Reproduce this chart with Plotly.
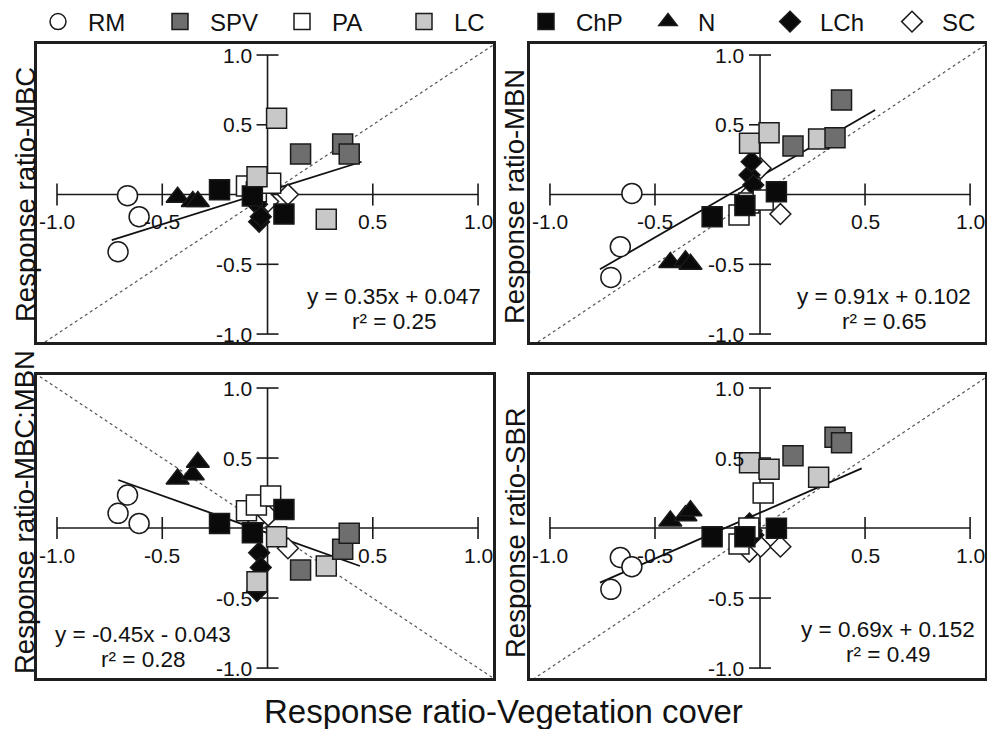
import plotly.graph_objects as go

# ---------------- data ----------------
groups = ["RM", "SPV", "PA", "LC", "ChP", "N", "LCh", "SC"]
n_per_group = 3

# Response ratio - vegetation cover (x of every point), grouped 3 per group in `groups` order
veg_cover = [
    -0.71, -0.665, -0.61,     # RM
    0.157, 0.357, 0.388,      # SPV
    -0.10, -0.053, 0.015,     # PA
    -0.05, 0.043, 0.279,      # LC
    -0.228, -0.072, 0.078,    # ChP
    -0.427, -0.355, -0.331,   # N
    -0.05, -0.04, -0.032,     # LCh
    -0.051, 0.003, 0.097,     # SC
]
rr_mbc = [
    -0.41, -0.008, -0.159,
    0.29, 0.362, 0.29,
    0.061, 0.02, 0.08,
    0.128, 0.546, -0.178,
    0.035, -0.01, -0.14,
    -0.02, -0.05, -0.05,
    -0.07, -0.195, -0.159,
    -0.04, -0.05, 0.0,
]
rr_mbn = [
    -0.594, -0.374, 0.008,
    0.348, 0.407, 0.677,
    -0.147, -0.06, -0.04,
    0.367, 0.443, 0.398,
    -0.159, -0.078, 0.02,
    -0.487, -0.475, -0.50,
    0.14, 0.235, 0.068,
    0.0, 0.188, -0.14,
]
rr_mbc_mbn = [
    0.105, 0.236, 0.033,
    -0.30, -0.152, -0.038,
    0.124, 0.164, 0.229,
    -0.383, -0.062, -0.271,
    0.033, -0.033, 0.133,
    0.35, 0.38, 0.47,
    -0.45, -0.176, -0.281,
    0.06, 0.09, -0.145,
]
rr_sbr = [
    -0.438, -0.21, -0.276,
    0.517, 0.648, 0.61,
    -0.114, 0.0, 0.25,
    0.467, 0.419, 0.362,
    -0.062, -0.062, -0.002,
    0.05, 0.088, 0.123,
    0.033, -0.02, -0.05,
    -0.169, -0.133, -0.133,
]

# fitted regression lines (end points as drawn)
fit_x_mbc = [-0.74, 0.447]
fit_y_mbc = [-0.326, 0.235]
fit_x_mbn = [-0.762, 0.548]
fit_y_mbn = [-0.536, 0.606]
fit_x_ratio = [-0.709, 0.439]
fit_y_ratio = [0.343, -0.271]
fit_x_sbr = [-0.762, 0.484]
fit_y_sbr = [-0.39, 0.426]

# 1:1 reference lines
ref_x = [-1.2, 1.2]
ref_y_pos = [-1.2, 1.2]
ref_y_neg = [1.2, -1.2]

equations = ["y = 0.35x + 0.047", "y = 0.91x + 0.102", "y = -0.45x - 0.043", "y = 0.69x + 0.152"]
r_squared = ["r² = 0.25", "r² = 0.65", "r² = 0.28", "r² = 0.49"]
y_titles = ["Response ratio-MBC", "Response ratio-MBN", "Response ratio-MBC:MBN", "Response ratio-SBR"]
x_title = "Response ratio-Vegetation cover"

tick_vals = [-1.0, -0.5, 0.5, 1.0]
tick_text = ["-1.0", "-0.5", "0.5", "1.0"]

# ---------------- styling ----------------
FONT = "Liberation Sans, Arial, sans-serif"
style = {
    "RM": dict(symbol="circle", color="white", size=20),
    "SPV": dict(symbol="square", color="#6e6e6e", size=20),
    "PA": dict(symbol="square", color="white", size=20),
    "LC": dict(symbol="square", color="#c8c8c8", size=20),
    "ChP": dict(symbol="square", color="#0a0a0a", size=20),
    "N": dict(symbol="triangle-up", color="#0a0a0a", size=20),
    "LCh": dict(symbol="diamond", color="#0a0a0a", size=16),
    "SC": dict(symbol="diamond", color="white", size=16),
}
draw_order = ["RM", "N", "SC", "LCh", "PA", "ChP", "LC", "SPV"]

W, H = 987, 729
panels = [
    dict(y=rr_mbc, fx=fit_x_mbc, fy=fit_y_mbc, ref=ref_y_pos, px=(37, 493), py=(44, 342),
         yr=(-1.057, 1.079), eq_xy=(394, 296), title_xy=(25, 195)),
    dict(y=rr_mbn, fx=fit_x_mbn, fy=fit_y_mbn, ref=ref_y_pos, px=(530, 985), py=(44, 342),
         yr=(-1.057, 1.079), eq_xy=(884, 296), title_xy=(515, 197)),
    dict(y=rr_mbc_mbn, fx=fit_x_ratio, fy=fit_y_ratio, ref=ref_y_neg, px=(37, 493), py=(375, 678),
         yr=(-1.071, 1.093), eq_xy=(143, 634), title_xy=(25, 512)),
    dict(y=rr_sbr, fx=fit_x_sbr, fy=fit_y_sbr, ref=ref_y_pos, px=(530, 985), py=(375, 678),
         yr=(-1.071, 1.093), eq_xy=(888, 629), title_xy=(515, 533)),
]
xr = (-1.095, 1.071)

fig = go.Figure()
shapes = []
annotations = []
layout_axes = {}

for k, p in enumerate(panels):
    i = k + 1
    xa = "x" if i == 1 else f"x{i}"
    ya = "y" if i == 1 else f"y{i}"
    xkey = "xaxis" if i == 1 else f"xaxis{i}"
    ykey = "yaxis" if i == 1 else f"yaxis{i}"
    layout_axes[xkey] = dict(
        domain=[p["px"][0] / W, p["px"][1] / W], range=list(xr), anchor=ya,
        showline=True, mirror=True, linewidth=3, linecolor="#1e1e1e",
        showgrid=False, zeroline=False, showticklabels=False, ticks="", fixedrange=True)
    layout_axes[ykey] = dict(
        domain=[1 - p["py"][1] / H, 1 - p["py"][0] / H], range=list(p["yr"]), anchor=xa,
        showline=True, mirror=True, linewidth=3, linecolor="#1e1e1e",
        showgrid=False, zeroline=False, showticklabels=False, ticks="", fixedrange=True)

    # 1:1 dotted reference line
    fig.add_trace(go.Scatter(x=ref_x, y=p["ref"], mode="lines", xaxis=xa, yaxis=ya,
                             line=dict(color="#555555", width=1.2, dash="dot"),
                             showlegend=False, hoverinfo="skip"))
    # regression line
    fig.add_trace(go.Scatter(x=p["fx"], y=p["fy"], mode="lines", xaxis=xa, yaxis=ya,
                             line=dict(color="#111111", width=1.8),
                             showlegend=False, hoverinfo="skip"))
    # points
    for g in draw_order:
        gi = groups.index(g)
        sl = slice(gi * n_per_group, (gi + 1) * n_per_group)
        st = style[g]
        fig.add_trace(go.Scatter(
            x=veg_cover[sl], y=p["y"][sl], mode="markers", xaxis=xa, yaxis=ya,
            name=g, legendgroup=g, legendrank=gi + 1, showlegend=(k == 0),
            marker=dict(symbol=st["symbol"], size=st["size"], color=st["color"],
                        line=dict(color="#1a1a1a", width=1.5))))

    # central axes with crossing ticks
    shapes.append(dict(type="line", xref=xa, yref=ya, x0=-1, x1=1, y0=0, y1=0,
                       line=dict(color="#1a1a1a", width=1.6), layer="below"))
    shapes.append(dict(type="line", xref=xa, yref=ya, x0=0, x1=0, y0=-1, y1=1,
                       line=dict(color="#1a1a1a", width=1.6), layer="below"))
    for v, t in zip(tick_vals, tick_text):
        shapes.append(dict(type="line", xref=xa, yref=ya, x0=v, x1=v,
                           ysizemode="pixel", yanchor=0, y0=-11, y1=11,
                           line=dict(color="#1a1a1a", width=1.6), layer="below"))
        shapes.append(dict(type="line", xref=xa, yref=ya, y0=v, y1=v,
                           xsizemode="pixel", xanchor=0, x0=-11, x1=11,
                           line=dict(color="#1a1a1a", width=1.6), layer="below"))
        annotations.append(dict(xref=xa, yref=ya, x=v, y=0, text=t, showarrow=False,
                                xanchor="center", yanchor="middle", yshift=-27,
                                font=dict(size=21, color="#111", family=FONT)))
        annotations.append(dict(xref=xa, yref=ya, x=0, y=v, text=t, showarrow=False,
                                xanchor="right", yanchor="middle", xshift=-14,
                                font=dict(size=21, color="#111", family=FONT)))
    # equation text
    ex, ey = p["eq_xy"]
    annotations.append(dict(xref="paper", yref="paper", x=ex / W, y=1 - ey / H, text=equations[k],
                            showarrow=False, xanchor="center", yanchor="middle",
                            font=dict(size=22.5, color="#111", family=FONT)))
    annotations.append(dict(xref="paper", yref="paper", x=ex / W, y=1 - (ey + 25) / H, text=r_squared[k],
                            showarrow=False, xanchor="center", yanchor="middle",
                            font=dict(size=22.5, color="#111", family=FONT)))
    # y title
    tx, ty = p["title_xy"]
    annotations.append(dict(xref="paper", yref="paper", x=tx / W, y=1 - ty / H, text=y_titles[k],
                            showarrow=False, textangle=-90, xanchor="center", yanchor="middle",
                            font=dict(size=27.5, color="#111", family=FONT)))

annotations.append(dict(xref="paper", yref="paper", x=503 / W, y=1 - 711 / H, text=x_title,
                        showarrow=False, xanchor="center", yanchor="middle",
                        font=dict(size=33, color="#111", family=FONT)))

fig.update_layout(
    width=W, height=H, autosize=False,
    margin=dict(l=0, r=0, t=0, b=0, autoexpand=False),
    paper_bgcolor="white", plot_bgcolor="white",
    font=dict(family=FONT, color="#111"),
    shapes=shapes, annotations=annotations,
    legend=dict(orientation="h", x=28 / W, xanchor="left", y=1 - 22 / H, yanchor="middle",
                font=dict(size=24, family=FONT, color="#111"), itemwidth=50,
                entrywidth=57, entrywidthmode="pixels",
                bgcolor="rgba(0,0,0,0)", itemsizing="trace", traceorder="normal"),
    **layout_axes,
)

fig.write_html("out.html", config={"displayModeBar": False},
               post_script="document.body.style.margin='0';document.body.style.padding='0';")
